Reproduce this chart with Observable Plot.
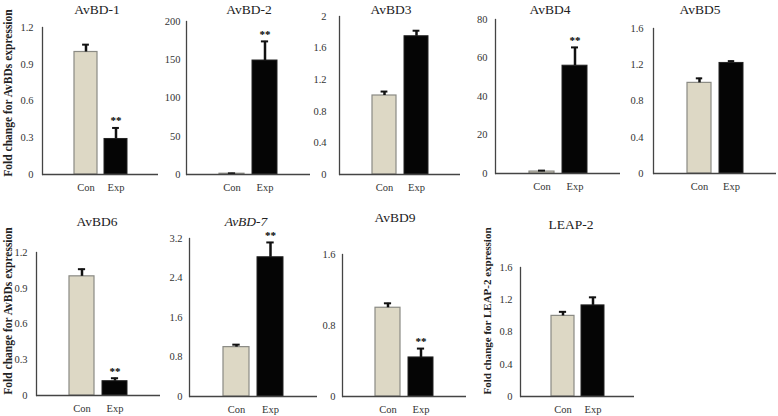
<!DOCTYPE html>
<html><head><meta charset="utf-8">
<script src="https://cdn.jsdelivr.net/npm/d3@7"></script>
<script src="https://cdn.jsdelivr.net/npm/@observablehq/plot@0.6"></script>
<style>
body{margin:0;background:#fff;}
#chart{position:relative;width:778px;height:416px;background:#fff;overflow:hidden;font-family:"Liberation Serif","Times New Roman",serif;}
.title{position:absolute;transform:translate(-50%,-50%);font-size:13.5px;color:#222;white-space:nowrap;line-height:1;}
#chart svg{position:absolute;}
</style></head><body><div id="chart"></div>
<script>
// ---- data ----
const genes = ["AvBD-1","AvBD-2","AvBD3","AvBD4","AvBD5","AvBD6","AvBD-7","AvBD9","LEAP-2"];
const groups = ["Con","Exp"];
const conMean = [1.0, 1.0, 1.0, 1.0, 1.0, 1.0, 1.0, 1.0, 1.0];
const conErr  = [0.06, 0.5, 0.05, 0.5, 0.05, 0.06, 0.05, 0.05, 0.05];
const expMean = [0.29, 149, 1.75, 56, 1.22, 0.12, 2.82, 0.44, 1.13];
const expErr  = [0.09, 25, 0.07, 9.5, 0.02, 0.025, 0.3, 0.1, 0.1];
const expSig  = ["**","**","","**","","**","**","**",""];
const yMax    = [1.2, 200, 2, 80, 1.6, 1.2, 3.2, 1.6, 1.6];
const yTicks  = [
  [0,0.3,0.6,0.9,1.2],
  [0,50,100,150,200],
  [0,0.4,0.8,1.2,1.6,2],
  [0,20,40,60,80],
  [0,0.4,0.8,1.2,1.6],
  [0,0.3,0.6,0.9,1.2],
  [0,0.8,1.6,2.4,3.2],
  [0,0.8,1.6],
  [0,0.4,0.8,1.2,1.6]
];
const yLabels = ["Fold change for AvBDs expression","","","","","Fold change for AvBDs expression","","","Fold change for LEAP-2 expression"];

// ---- layout (pixel frame of each panel) ----
const layout = [
  {x0:42, x1:158, top:27, bottom:174, tx:97,  ty:10,  pad:9,  lx:8,   ldy:-8, lfs:11.5},
  {x0:186,x1:310, top:21, bottom:174, tx:249, ty:10,  pad:6},
  {x0:339,x1:460, top:16, bottom:174, tx:391, ty:10,  pad:13},
  {x0:495,x1:620, top:19, bottom:173, tx:550, ty:10,  pad:8},
  {x0:653,x1:776, top:28, bottom:173, tx:700, ty:10,  pad:10},
  {x0:36, x1:160, top:252,bottom:395, tx:97,  ty:222, pad:9,  lx:8,   ldy:-13, lfs:11.5},
  {x0:189,x1:317, top:238,bottom:396, tx:246, ty:222, pad:7, italic:true},
  {x0:342,x1:466, top:254,bottom:396, tx:395, ty:218, pad:7},
  {x0:520,x1:634, top:267,bottom:396, tx:571, ty:225, pad:8,  lx:487, ldy:-21, lfs:11}
];

const chart = document.getElementById("chart");
const fmt = d => String(Math.round(d*10)/10);
const PI = 0.25;

genes.forEach((g, i) => {
  const L = layout[i];
  const rows = groups.map((grp, j) => ({
    group: grp,
    mean: j ? expMean[i] : conMean[i],
    err: j ? expErr[i] : conErr[i],
    sig: j ? expSig[i] : ""
  }));
  const mL = Math.min(45, L.x0), mR = 4, mT = 10, mB = 22;
  const W = L.x1 - L.x0;
  const step = W / (4 - PI);
  const bw = step * (1 - PI);
  const capInset = bw / 2 - 3.5;
  const marks = [
    Plot.barY(rows.filter(d => d.group === "Con"), {x: "group", y: "mean", fill: "#ddd8c5", stroke: "#8a8a84", strokeWidth: 1.2}),
    Plot.barY(rows.filter(d => d.group === "Exp"), {x: "group", y: "mean", fill: "#050505", stroke: "#222", strokeWidth: 1}),
    Plot.ruleX(rows, {x: "group", y1: "mean", y2: d => d.mean + d.err, stroke: "#111", strokeWidth: 2.5}),
    Plot.tickY(rows, {x: "group", y: d => d.mean + d.err, stroke: "#111", strokeWidth: 2, insetLeft: capInset, insetRight: capInset}),
    Plot.text(rows.filter(d => d.sig), {x: "group", y: d => d.mean + d.err, text: "sig", dy: -7, fontSize: 11, fontWeight: "bold", fill: "#000"}),
    Plot.ruleY([0], {stroke: "#444", strokeWidth: 1.3}),
    Plot.frame({anchor: "left", stroke: "#444", strokeWidth: 1.3}),
    Plot.axisY({ticks: yTicks[i], tickSize: 0, tickPadding: L.pad, tickFormat: fmt, fill: "#333", label: null}),
    Plot.axisX({ticks: groups, tickSize: 0, tickPadding: 9, fill: "#333", label: null})
  ];
  if (yLabels[i]) {
    marks.push(Plot.text([yLabels[i]], {
      frameAnchor: "left", text: d => d, rotate: -90, textAnchor: "middle", lineAnchor: "middle",
      dx: -(L.x0 - L.lx), dy: L.ldy, fontWeight: "bold", fontSize: L.lfs, fill: "#222"
    }));
  }
  const svg = Plot.plot({
    width: W + mL + mR,
    height: L.bottom - L.top + mT + mB,
    marginLeft: mL, marginRight: mR, marginTop: mT, marginBottom: mB,
    style: {background: "transparent", fontFamily: "'Liberation Serif', 'Times New Roman', serif", fontSize: "10.5px", color: "#333", overflow: "visible", maxWidth: "none"},
    x: {domain: ["", "Con", "Exp", " "], paddingInner: PI, paddingOuter: 0},
    y: {domain: [0, yMax[i]]},
    marks
  });
  svg.style.left = (L.x0 - mL) + "px";
  svg.style.top = (L.top - mT) + "px";
  chart.appendChild(svg);

  const t = document.createElement("div");
  t.className = "title";
  t.textContent = g;
  t.style.left = L.tx + "px";
  t.style.top = L.ty + "px";
  if (L.italic) t.style.fontStyle = "italic";
  chart.appendChild(t);
});
</script>
</body></html>
